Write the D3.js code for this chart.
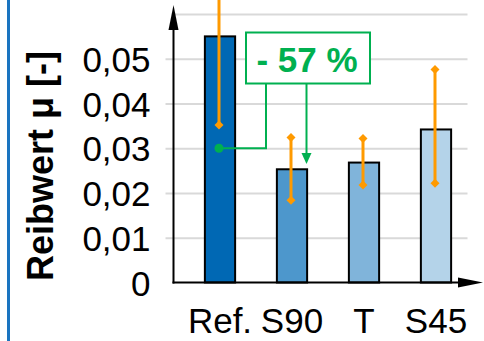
<!DOCTYPE html>
<html>
<head>
<meta charset="utf-8">
<script src="https://cdn.jsdelivr.net/npm/d3@7"></script>
<style>
  html, body { margin: 0; padding: 0; background: #fff; }
  svg { display: block; font-family: "Liberation Sans", Arial, sans-serif; }
</style>
</head>
<body>
<svg id="chart" width="484" height="341"></svg>
<script>
// Friction coefficient per surface variant
const categories = ["Ref.", "S90", "T", "S45"];
const means = [0.055, 0.0253, 0.0268, 0.0342];
const errLow = [0.0352, 0.0184, 0.0218, 0.0222];
const errHigh = [0.075, 0.0324, 0.0322, 0.0476];
const barColors = ["#0068b4", "#4d97cc", "#80b4da", "#b4d3e9"];
const yTicks = [0, 0.01, 0.02, 0.03, 0.04, 0.05];
const gridTicks = [0.01, 0.02, 0.03, 0.04, 0.05, 0.06];
const reductionLabel = "- 57 %";
const reductionFrom = 0.03;   // connector start value on the reference bar
const reductionTo = 0.0265;   // arrow tip value next to S90

const svg = d3.select("#chart");
const W = 484, H = 341;
const axisX = 173.5, axisY = 282.5;

const y = d3.scaleLinear().domain([0, 0.06]).range([axisY, 14]);
const x = d3.scaleBand().domain(categories).range([184, 472])
  .paddingInner(0.58).paddingOuter(0.29);

const green = "#00b050", orange = "#ff9a00";

const defs = svg.append("defs");
defs.append("clipPath").attr("id", "plotclip")
  .append("rect").attr("x", 0).attr("y", 0).attr("width", W).attr("height", H);

// left border stripe
svg.append("line").attr("x1", 8.5).attr("x2", 8.5).attr("y1", 0).attr("y2", H)
  .attr("stroke", "#1a74c0").attr("stroke-width", 3);

// gridlines
const grid = svg.append("g").attr("transform", `translate(${axisX},0)`)
  .call(d3.axisRight(y).tickValues(gridTicks).tickSize(294).tickFormat(""));
grid.select(".domain").remove();
grid.selectAll("line").attr("stroke", "#d9d9d9").attr("stroke-width", 2);

// y axis labels + short ticks
const loc = d3.formatLocale({ decimal: ",", thousands: ".", grouping: [3], currency: ["", "€"] });
const fmt = loc.format(".2f");
const yAxis = svg.append("g").attr("transform", `translate(${axisX},0)`)
  .call(d3.axisLeft(y).tickValues(yTicks).tickSize(8).tickPadding(15)
    .tickFormat(d => d === 0 ? "0" : fmt(d)));
yAxis.select(".domain").remove();
yAxis.selectAll("line").attr("stroke", "#d9d9d9").attr("stroke-width", 2)
  .filter(d => d === 0).remove();
yAxis.selectAll("text").attr("font-size", 35).attr("fill", "#000")
  .attr("font-family", "'Liberation Sans', Arial, sans-serif")
  .attr("dy", "0.36em");

// y axis title
svg.append("text")
  .attr("transform", `translate(53,166) rotate(-90)`)
  .attr("text-anchor", "middle")
  .attr("font-size", 36).attr("font-weight", "bold").attr("fill", "#000")
  .text("Reibwert μ [-]");

// bars
svg.append("g").selectAll("rect").data(categories).join("rect")
  .attr("x", d => x(d))
  .attr("y", (d, i) => y(means[i]))
  .attr("width", x.bandwidth())
  .attr("height", (d, i) => y(0) - y(means[i]))
  .attr("fill", (d, i) => barColors[i])
  .attr("stroke", "#000").attr("stroke-width", 2);

// axes with arrowheads
const axes = svg.append("g");
axes.append("line").attr("x1", axisX).attr("x2", axisX).attr("y1", axisY + 1).attr("y2", 28)
  .attr("stroke", "#000").attr("stroke-width", 2);
axes.append("path").attr("d", `M${axisX},5 L${axisX - 5},30 L${axisX + 5},30 Z`).attr("fill", "#000");
axes.append("line").attr("x1", axisX - 1).attr("x2", 460).attr("y1", axisY).attr("y2", axisY)
  .attr("stroke", "#000").attr("stroke-width", 2);
axes.append("path").attr("d", `M483,${axisY} L458,${axisY - 5} L458,${axisY + 5} Z`).attr("fill", "#000");

// x axis labels
const xAxis = svg.append("g").attr("transform", `translate(0,${axisY})`)
  .call(d3.axisBottom(x).tickSize(0));
xAxis.select(".domain").remove();
xAxis.selectAll("text").attr("font-size", 35).attr("fill", "#000")
  .attr("font-family", "'Liberation Sans', Arial, sans-serif")
  .attr("y", 50.5).attr("dy", 0);

// error bars
const eb = svg.append("g").attr("clip-path", "url(#plotclip)");
const cx = d => x(d) + x.bandwidth() / 2 - 1;
const diamond = (px, py) => `M${px},${py - 4.5} L${px + 4.5},${py} L${px},${py + 4.5} L${px - 4.5},${py} Z`;
categories.forEach((c, i) => {
  eb.append("line").attr("x1", cx(c)).attr("x2", cx(c))
    .attr("y1", y(errLow[i])).attr("y2", y(errHigh[i]))
    .attr("stroke", orange).attr("stroke-width", 3);
  eb.append("path").attr("d", diamond(cx(c), y(errLow[i]))).attr("fill", orange);
  eb.append("path").attr("d", diamond(cx(c), y(errHigh[i]))).attr("fill", orange);
});

// reduction annotation
const ann = svg.append("g");
const boxX = 246, boxY = 32.5, boxW = 124, boxH = 51;
ann.append("rect").attr("x", boxX).attr("y", boxY).attr("width", boxW).attr("height", boxH)
  .attr("fill", "#fff").attr("stroke", green).attr("stroke-width", 2);
ann.append("text").attr("x", boxX + boxW / 2 - 1).attr("y", 72)
  .attr("text-anchor", "middle").attr("font-size", 35).attr("font-weight", "bold")
  .attr("fill", green).text(reductionLabel);
const refX = cx("Ref.");
ann.append("path")
  .attr("d", `M${refX},${y(reductionFrom)} H266 V${boxY + boxH}`)
  .attr("fill", "none").attr("stroke", green).attr("stroke-width", 2);
ann.append("circle").attr("cx", refX).attr("cy", y(reductionFrom)).attr("r", 4.5).attr("fill", green);
const arrowX = 306.5, tipY = y(reductionTo);
ann.append("line").attr("x1", arrowX).attr("x2", arrowX).attr("y1", boxY + boxH).attr("y2", tipY - 8)
  .attr("stroke", green).attr("stroke-width", 2);
ann.append("path").attr("d", `M${arrowX},${tipY} L${arrowX - 5},${tipY - 11} L${arrowX + 5},${tipY - 11} Z`)
  .attr("fill", green);
</script>
</body>
</html>
